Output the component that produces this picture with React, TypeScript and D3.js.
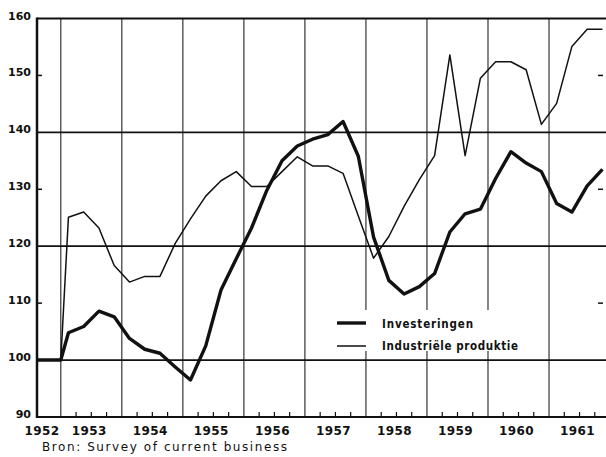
import React from "react";
import * as d3 from "d3";

// Quarterly index numbers (base = 100)
const years = [1953, 1954, 1955, 1956, 1957, 1958, 1959, 1960, 1961];
const quarters = [0, 1, 2, 3];
const yearLabels = ["1952", "1953", "1954", "1955", "1956", "1957", "1958", "1959", "1960", "1961"];
const yTicks = [90, 100, 110, 120, 130, 140, 150, 160];
const yGrid = [100, 120, 140];
const yMinor = [110, 130, 150];

const baseValue = 100;

const investeringen = [
  104.8, 105.9, 108.6, 107.6, 103.8, 101.9, 101.2, 98.8,
  96.5, 102.5, 112.3, 117.8, 123.2, 129.8, 135.0, 137.6,
  138.8, 139.6, 141.9, 135.8, 121.6, 114.0, 111.6, 112.9,
  115.2, 122.5, 125.7, 126.5, 131.9, 136.6, 134.6, 133.1,
  127.5, 126.0, 130.6, 133.5,
];

const industrie = [
  125.1, 126.0, 123.2, 116.6, 113.7, 114.7, 114.7, 120.5,
  124.8, 128.8, 131.5, 133.1, 130.5, 130.5, 133.1, 135.7,
  134.1, 134.1, 132.8, 125.3, 117.9, 121.7, 127.0, 131.7,
  135.9, 153.6, 135.9, 149.5, 152.4, 152.4, 151.0, 141.4,
  145.1, 155.1, 158.1, 158.1,
];

const W = 606;
const H = 457;
const start = 1952.61;
const end = 1961.95;

// quarter mid points
const periods = years.flatMap((y) => quarters.map((q) => y + (q + 0.5) / 4));

interface Pt {
  t: number;
  v: number;
}

const withBase = (vals: number[]): Pt[] => [
  { t: start, v: baseValue },
  { t: years[0], v: baseValue },
  ...vals.map((v, i) => ({ t: periods[i], v })),
];

const App = () => {
  const x = d3.scaleLinear().domain([start, end]).range([37, 607]);
  const y = d3.scaleLinear().domain([90, 160]).range([417, 18.5]);

  const line = d3
    .line<Pt>()
    .x((d) => x(d.t))
    .y((d) => y(d.v));

  const left = x(start);
  const right = W;
  const bottom = y(90);
  const top = y(160);

  const numFont = "'DejaVu Sans', Verdana, sans-serif";
  const narrowFont = "'DejaVu Sans Condensed', 'Liberation Sans Narrow', sans-serif";

  const quarterTicks = years.flatMap((yr) => [0.25, 0.5, 0.75].map((f) => yr + f));

  return (
    <svg
      width={W}
      height={H}
      style={{ position: "absolute", left: 0, top: 0, background: "#fff" }}
    >
      {/* vertical year lines */}
      {years.map((yr) => (
        <line
          key={yr}
          x1={x(yr)}
          x2={x(yr)}
          y1={top}
          y2={bottom}
          stroke="#222"
          strokeWidth={1.1}
        />
      ))}

      {/* horizontal grid */}
      {yGrid.map((v) => (
        <line key={v} x1={left} x2={right} y1={y(v)} y2={y(v)} stroke="#111" strokeWidth={1.8} />
      ))}

      {/* minor ticks on y */}
      {yMinor.map((v) => (
        <g key={v}>
          <line x1={left} x2={left + 5} y1={y(v)} y2={y(v)} stroke="#111" strokeWidth={1.5} />
          <line x1={598} x2={603} y1={y(v)} y2={y(v)} stroke="#111" strokeWidth={1.5} />
        </g>
      ))}

      {/* quarter ticks */}
      {quarterTicks.map((t) => (
        <line key={t} x1={x(t)} x2={x(t)} y1={bottom} y2={bottom - 5} stroke="#111" strokeWidth={1.2} />
      ))}

      {/* frame */}
      <line x1={left} x2={right} y1={top} y2={top} stroke="#111" strokeWidth={2} />
      <line x1={left} x2={right} y1={bottom} y2={bottom} stroke="#111" strokeWidth={2} />
      <line x1={left} x2={left} y1={top - 1} y2={bottom + 1} stroke="#111" strokeWidth={2.5} />

      {/* legend background */}
      <rect x={312} y={310} width={232} height={41} fill="#fff" />

      {/* series */}
      <path d={line(withBase(industrie)) ?? ""} fill="none" stroke="#111" strokeWidth={1.5} strokeLinejoin="round" />
      <path d={line(withBase(investeringen)) ?? ""} fill="none" stroke="#111" strokeWidth={3.4} strokeLinejoin="round" />

      {/* legend */}
      <line x1={337} x2={366} y1={323} y2={323} stroke="#111" strokeWidth={3.4} />
      <text x={382} y={327.5} fontFamily={narrowFont} fontWeight="bold" fontSize={11.5} textLength={91} lengthAdjust="spacing" fill="#111">
        Investeringen
      </text>
      <line x1={337} x2={366} y1={346} y2={346} stroke="#111" strokeWidth={1.5} />
      <text x={382} y={350} fontFamily={narrowFont} fontWeight="bold" fontSize={11.5} textLength={136} lengthAdjust="spacing" fill="#111">
        Industriële produktie
      </text>

      {/* y labels */}
      {yTicks.map((v) => (
        <text
          key={v}
          x={31}
          y={y(v)}
          dy={1}
          textAnchor="end"
          fontFamily={numFont}
          fontWeight="bold"
          fontSize={11}
          fill="#111"
        >
          {v}
        </text>
      ))}

      {/* x labels */}
      {yearLabels.map((lab, i) => {
        const cx = i === 0 ? left + 5 : x(+lab + 0.5) - 2;
        return (
          <text
            key={lab}
            x={cx}
            y={435}
            textAnchor="middle"
            fontFamily={numFont}
            fontWeight="bold"
            fontSize={12}
            letterSpacing={0.4}
            fill="#111"
          >
            {lab}
          </text>
        );
      })}

      <text x={42} y={451} fontFamily={numFont} fontSize={12} textLength={245} lengthAdjust="spacing" fill="#111">
        Bron: Survey of current business
      </text>
    </svg>
  );
};

export default App;
